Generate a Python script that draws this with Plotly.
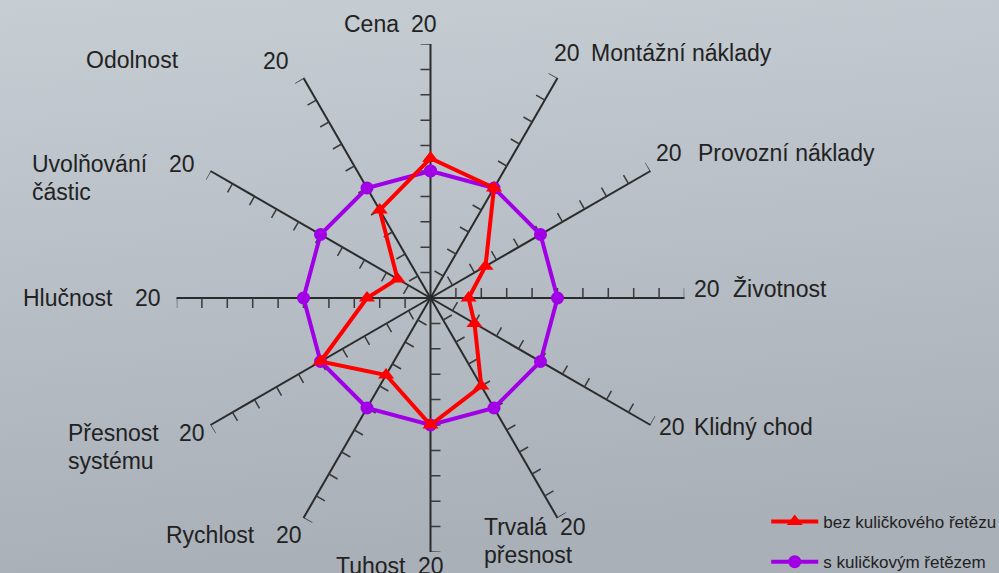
import base64
import math
import plotly.graph_objects as go

# ---------------- data ----------------
categories = ["Cena", "Montážní náklady", "Provozní náklady", "Životnost", "Klidný chod",
              "Trvalá přesnost", "Tuhost", "Rychlost", "Přesnost systému", "Hlučnost",
              "Uvolňování částic", "Odolnost"]
bez_retezu = [11, 10, 5, 3, 4, 8, 10, 7, 10, 5, 3, 8]
s_retezem = [10, 10, 10, 10, 10, 10, 10, 10, 10, 10, 10, 10]
series_names = ["bez kuličkového řetězu", "s kuličkovým řetězem"]
axis_max = 20
tick_values = [2, 4, 6, 8, 10, 12, 14, 16, 18, 20]
axis_max_label = "20"

# ---------------- geometry / style ----------------
W, H = 999, 573
CX, CY, R = 430.5, 298.0, 254.0
FONT = "Liberation Sans, Arial, sans-serif"
TXT = "#222222"
RED = "#FF0000"
PURPLE = "#A100E6"

n = len(categories)
angles = [i * 360.0 / n for i in range(n)]


def closed(vals):
    return list(vals) + [vals[0]]


fig = go.Figure()

# tick marks on every spoke (counter-clockwise side)
d_units = 10.0 * axis_max / R
tr, tt = [], []
for a in angles:
    for v in tick_values:
        tr += [v, math.hypot(v, d_units), None]
        tt += [a, a - math.degrees(math.atan2(d_units, v)), None]
fig.add_trace(go.Scatterpolar(r=tr, theta=tt, mode="lines",
                              line=dict(color="#3a3a3a", width=1.5),
                              showlegend=False, hoverinfo="skip", cliponaxis=False))

# series
fig.add_trace(go.Scatterpolar(r=closed(s_retezem), theta=closed(angles), mode="lines+markers",
                              name=series_names[1], legendgroup="b", legendrank=2,
                              line=dict(color=PURPLE, width=4),
                              marker=dict(symbol="circle", size=13, color=PURPLE),
                              cliponaxis=False))
fig.add_trace(go.Scatterpolar(r=closed(bez_retezu), theta=closed(angles), mode="lines+markers",
                              name=series_names[0], legendgroup="a", legendrank=1,
                              line=dict(color=RED, width=4),
                              marker=dict(symbol="triangle-up", size=14, color=RED),
                              cliponaxis=False))

# ---------------- labels ----------------
labels = [
    ("Cena", 343, 24, "left"), (axis_max_label, 438, 24, "right"),
    (axis_max_label, 553, 53, "left"), ("Montážní náklady", 590, 53, "left"),
    (axis_max_label, 655, 153, "left"), ("Provozní náklady", 697, 153, "left"),
    (axis_max_label, 693, 289, "left"), ("Životnost", 732, 289, "left"),
    (axis_max_label, 658, 427, "left"), ("Klidný chod", 693, 427, "left"),
    ("Trvalá", 483, 527, "left"), (axis_max_label, 587, 527, "right"), ("přesnost", 483, 555, "left"),
    ("Tuhost", 335, 566, "left"), (axis_max_label, 445, 566, "right"),
    ("Rychlost", 165, 535, "left"), (axis_max_label, 303, 535, "right"),
    ("Přesnost", 67, 433, "left"), (axis_max_label, 206, 433, "right"), ("systému", 67, 461, "left"),
    ("Hlučnost", 22, 298, "left"), (axis_max_label, 162, 298, "right"),
    ("Uvolňování", 31, 164, "left"), (axis_max_label, 196, 164, "right"), ("částic", 31, 192, "left"),
    ("Odolnost", 85, 60, "left"), (axis_max_label, 290, 61, "right"),
]
annotations = []
for text, x, y, anchor in labels:
    annotations.append(dict(text=text, x=x / W, y=1 - y / H, xref="paper", yref="paper",
                            xanchor=anchor, yanchor="middle", showarrow=False,
                            borderpad=0, font=dict(family=FONT, size=23, color=TXT)))

# ---------------- background gradient ----------------
svg = ('<svg xmlns="http://www.w3.org/2000/svg" width="999" height="573" preserveAspectRatio="none">'
       '<defs><linearGradient id="g" x1="0" y1="0" x2="0.15" y2="1">'
       '<stop offset="0" stop-color="#C6CDD3"/><stop offset="1" stop-color="#A9B0B8"/>'
       '</linearGradient></defs><rect width="999" height="573" fill="url(#g)"/></svg>')
bg_src = "data:image/svg+xml;base64," + base64.b64encode(svg.encode()).decode()

fig.update_layout(
    width=W, height=H,
    margin=dict(l=0, r=0, t=0, b=0, autoexpand=False),
    paper_bgcolor="#B8BEC5",
    images=[dict(source=bg_src, xref="paper", yref="paper", x=0, y=1, sizex=1, sizey=1,
                 sizing="stretch", layer="below", xanchor="left", yanchor="top")],
    polar=dict(
        domain=dict(x=[(CX - R) / W, (CX + R) / W], y=[1 - (CY + R) / H, 1 - (CY - R) / H]),
        bgcolor="rgba(0,0,0,0)",
        radialaxis=dict(range=[0, axis_max], showgrid=False, showline=False,
                        showticklabels=False, ticks=""),
        angularaxis=dict(type="linear", direction="clockwise", rotation=90,
                         tickmode="array", tickvals=angles, showticklabels=False, ticks="",
                         showline=False, showgrid=True, gridcolor="#2b2b2b", gridwidth=2),
    ),
    showlegend=True,
    legend=dict(x=0.767, y=1 - 504 / H, xanchor="left", yanchor="top",
                bgcolor="rgba(0,0,0,0)", traceorder="grouped", tracegroupgap=15,
                itemwidth=47, font=dict(family=FONT, size=17, color=TXT)),
    annotations=annotations,
)

post = ("var st=document.createElement('style');"
        "st.innerHTML='html,body{margin:0;padding:0;overflow:hidden;}';"
        "document.head.appendChild(st);")

fig.write_html("out.html", config={"displayModeBar": False}, post_script=post)
